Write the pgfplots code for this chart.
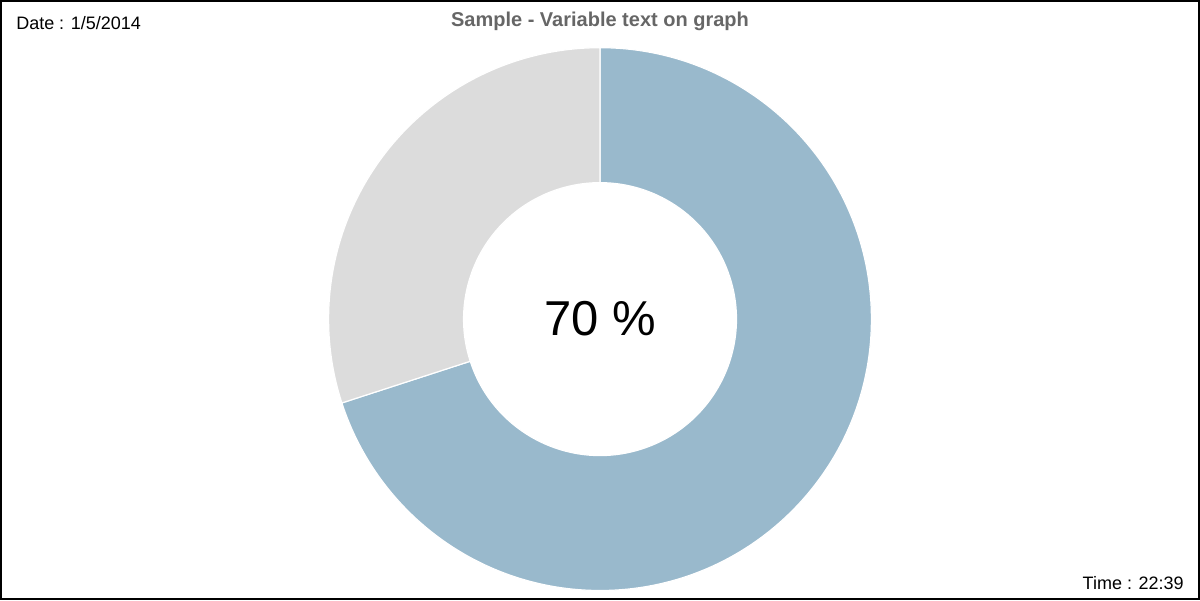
\documentclass[border=0pt]{standalone}
\usepackage{pgfplots}
\pgfplotsset{compat=1.18}
\usepackage{fontspec}
\setmainfont{Liberation Sans}
\definecolor{cblue}{HTML}{99B9CC}
\definecolor{cgray}{HTML}{DCDCDC}
\definecolor{ctitle}{HTML}{666666}
\begin{document}
\begin{tikzpicture}
\def\vA{70}\def\vB{30}
\pgfmathsetmacro{\aEnd}{90-3.6*\vA/(\vA+\vB)*100}
\def\Ro{135.75pt}\def\Ri{68.25pt}
\begin{axis}[width=600pt,height=300pt,scale only axis,xmin=0,xmax=1200,ymin=0,ymax=600,hide axis,clip=false]
\addplot[draw=none] coordinates {(0,0) (1200,600)};
\coordinate (c) at (axis cs:600,281);
\fill[cblue,draw=white,line width=0.6pt] (c) ++(90:\Ro) arc[start angle=90,end angle=\aEnd,radius=\Ro] -- ++(\aEnd:-67.5pt) arc[start angle=\aEnd,end angle=90,radius=\Ri] -- cycle;
\fill[cgray,draw=white,line width=0.6pt] (c) ++(90:\Ro) arc[start angle=90,end angle=\aEnd+360,radius=\Ro] -- ++(\aEnd:-67.5pt) arc[start angle=\aEnd+360,end angle=90,radius=\Ri] -- cycle;
\draw[black,line width=1.2pt] (axis cs:1,1) rectangle (axis cs:1199,599);
\node[anchor=base west,font=\fontsize{9pt}{10pt}\selectfont] at (axis cs:9,571) {Date : 1/5/2014};
\node[anchor=base east,font=\fontsize{9pt}{10pt}\selectfont] at (axis cs:1191,11) {Time : 22:39};
\node[anchor=base,font=\fontsize{10pt}{12pt}\selectfont\bfseries,text=ctitle] at (axis cs:600,574) {Sample - Variable text on graph};
\node[font=\fontsize{24.5pt}{28pt}\selectfont] at (c) {70 \%};
\end{axis}
\end{tikzpicture}
\end{document}
